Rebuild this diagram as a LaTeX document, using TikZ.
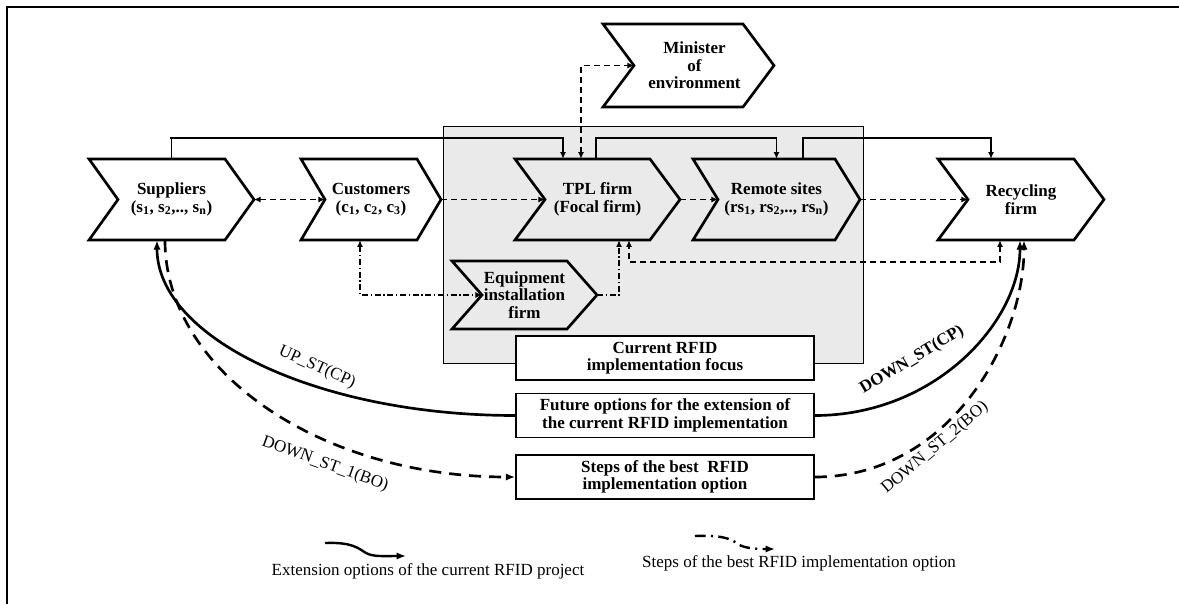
\documentclass[tikz,border=0pt]{standalone}
\usepackage{fontspec}
\setmainfont{Liberation Serif}
\usetikzlibrary{arrows.meta,calc}

% chevron: #1 name, #2 left x, #3 top-right x, #4 point depth, #5 top y, #6 bottom y, #7 fill, #8 text
\newcommand{\chevnode}[8]{%
  \draw[chevline,fill=#7] (#2,#5) -- (#3,#5) -- ({#3+#4},{(#5+#6)/2}) -- (#3,#6)
    -- (#2,#6) -- ({#2+#4},{(#5+#6)/2}) -- cycle;
  \node[chevtext,minimum width={(#3+#4-#2)*0.75pt},minimum height={(#6-#5)*0.75pt}]
    (#1) at ({(#2+#3+#4)/2},{(#5+#6)/2}) {#8};
  \coordinate (#1-tip) at ({#3+#4},{(#5+#6)/2});
  \coordinate (#1-notch) at ({#2+#4},{(#5+#6)/2});
}

\definecolor{focusgray}{RGB}{234,234,234}

\begin{document}
\begin{tikzpicture}[x=0.75pt,y=-0.75pt,
  basefont/.style={font=\fontsize{12.75}{13.2}\selectfont},
  chevline/.style={line width=2pt,line join=miter},
  chevtext/.style={basefont,inner sep=0pt,align=center,font=\fontsize{12.75}{13.2}\selectfont\bfseries},
  infobox/.style={draw,line width=1.2pt,fill=white,inner sep=0pt,align=center,
    minimum width=223.5pt,minimum height=33pt,font=\fontsize{12.75}{13.2}\selectfont\bfseries},
  focusbox/.style={draw,line width=0.7pt,fill=focusgray,inner sep=0pt},
  conn/.style={line width=0.8pt},
  dsh/.style={dash pattern=on 4.5pt off 3pt},
  dshdot/.style={dash pattern=on 4.5pt off 2pt on 1pt off 2pt},
  arrend/.style={-{Latex[length=5pt,width=4.5pt]}},
  arrboth/.style={{Latex[length=5pt,width=4.5pt]}-{Latex[length=5pt,width=4.5pt]}},
  bigline/.style={line width=2pt},
  bigdash/.style={line width=2pt,dash pattern=on 9pt off 6pt},
  bigarr/.style={-{Latex[length=7pt,width=5.5pt]}},
  curvelabel/.style={basefont,inner sep=0pt},
  legendtext/.style={basefont,inner sep=0pt}
]
\useasboundingbox (0,0) rectangle (1179,604);

% outer frame
\draw[line width=1.5pt] (7,604) -- (7,7) -- (1179,7);

% shaded area of the current implementation
\node[focusbox,minimum width=315pt,minimum height=177.75pt] (focus) at (653,244.5) {};

% chevrons
\chevnode{sup}{89}{225}{29}{159}{240}{white}{Suppliers\\(s\textsubscript{1}, s\textsubscript{2},.., s\textsubscript{n})}
\chevnode{cus}{301}{417}{24}{159}{240}{white}{Customers\\(c\textsubscript{1}, c\textsubscript{2}, c\textsubscript{3})}
\chevnode{tpl}{515}{650}{30}{159}{240}{focusgray}{TPL firm\\(Focal firm)}
\chevnode{rem}{693}{835}{25}{159}{240}{focusgray}{Remote sites\\(rs\textsubscript{1}, rs\textsubscript{2},.., rs\textsubscript{n})}
\chevnode{rec}{938}{1074}{30}{159}{240}{white}{Recycling\\firm}
\chevnode{min}{603}{743}{31}{24}{107}{white}{\hspace*{9pt}Minister\\\hspace*{9pt}of\\\hspace*{9pt}environment}
\chevnode{equ}{452}{567}{30}{261}{329}{focusgray}{Equipment\\installation\\firm}

% solid links along the top
\draw[conn,arrend] (sup.north) |- (170,138) -| ($(tpl.north)+(-34.5,0)$);
\draw[conn,arrend] ($(tpl.north)+(-1.5,0)$) |- (596,138) -| (rem.north);
\draw[conn,arrend] ($(rem.north)+(26.5,0)$) |- (803,138) -| ($(rec.north)+(-30,0)$);

% dashed links
\draw[conn,dsh,arrboth] ($(tpl.north)+(-16.5,0)$) |- (min-notch);
\draw[conn,dsh,arrboth] (sup-tip) -- (cus-notch);
\draw[conn,dsh,arrend] (cus-tip) -- (tpl-notch);
\draw[conn,dsh,arrend] (tpl-tip) -- (rem-notch);
\draw[conn,dsh,arrend] (rem-tip) -- (rec-notch);
\draw[conn,dsh,arrboth] ($(rec.south)+(-21,0)$) |- (629,262) -| ($(tpl.south)+(31.5,0)$);

% dash-dotted links
\draw[conn,dshdot,arrboth] ($(cus.south)+(-11,0)$) |- (equ-notch);
\draw[conn,dshdot,arrend] (equ-tip) -| ($(tpl.south)+(21.5,0)$);

% legend boxes
\node[infobox] (cur) at (665,358) {Current RFID\\implementation focus};
\node[infobox] (fut) at (665,415.5) {Future options for the extension of\\the current RFID implementation};
\node[infobox] (stp) at (665,477) {Steps of the best\ \ RFID\\implementation option};

% extension curves
\draw[bigline,bigarr] (fut.west) .. controls (318,415.5) and (157,338) .. ($(sup.south)+(-14.5,0)$);
\draw[bigdash,bigarr] ($(sup.south)+(-6.5,0)$) .. controls (165,372) and (322,477) .. (stp.west);
\draw[bigline,bigarr] (fut.east) .. controls (935,415.5) and (1020,322) .. ($(rec.south)+(-1,0)$);
\draw[bigdash,bigarr] (stp.east) .. controls (950,477) and (1024,340) .. ($(rec.south)+(3,0)$);

\node[curvelabel,rotate=-24] (lup) at (317,367) {UP\_ST(CP)};
\node[curvelabel,rotate=-20] (ld1) at (325,464) {DOWN\_ST\_1(BO)};
\node[curvelabel,rotate=31,font=\fontsize{12.75}{13.2}\selectfont\bfseries] (ldn) at (912,360) {DOWN\_ST(CP)};
\node[curvelabel,rotate=40] (ld2) at (935,448) {DOWN\_ST\_2(BO)};

% key
\coordinate (keyA0) at (325,543);
\coordinate (keyA1) at (406,556);
\draw[line width=1.8pt,bigarr] (keyA0) .. controls (352,542) and (358,548) .. (366,553)
  .. controls (373,557) and (385,556) .. (keyA1);
\node[legendtext] (keyAt) at (428,571) {Extension options of the current RFID project};

\coordinate (keyB0) at (695,536);
\coordinate (keyB1) at (775,549);
\draw[line width=1.8pt,dash pattern=on 8pt off 4pt on 1.5pt off 4pt,bigarr] (keyB0) .. controls (720,535) and (730,538) .. (738,544)
  .. controls (745,549) and (760,549) .. (keyB1);
\node[legendtext] (keyBt) at (799,563) {Steps of the best RFID implementation option};
\end{tikzpicture}
\end{document}
